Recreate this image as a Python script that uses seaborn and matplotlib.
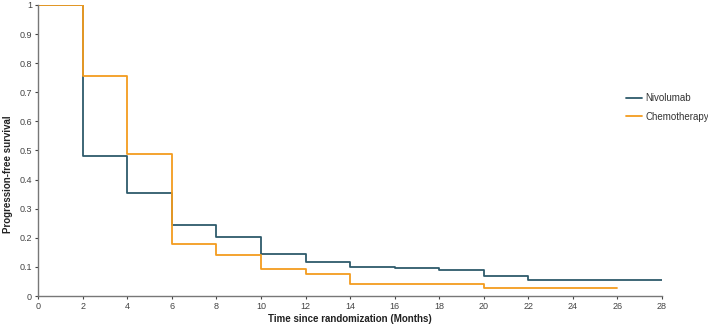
import pandas as pd
import numpy as np
import matplotlib
matplotlib.use("Agg")
import matplotlib.pyplot as plt
import seaborn as sns

# step times (months) and progression-free survival
nivo_months = [0, 2, 4, 6, 8, 10, 12, 14, 16, 18, 20, 22, 28]
nivo_pfs = [1.0, 0.48, 0.353, 0.243, 0.201, 0.146, 0.118, 0.101, 0.096, 0.089, 0.070, 0.056, 0.056]
chemo_months = [0, 2, 4, 6, 8, 10, 12, 14, 20, 26]
chemo_pfs = [1.0, 0.755, 0.487, 0.177, 0.140, 0.092, 0.075, 0.042, 0.028, 0.028]

x_ticks = list(range(0, 29, 2))
y_ticks = [0, 0.1, 0.2, 0.3, 0.4, 0.5, 0.6, 0.7, 0.8, 0.9, 1]
y_labels = ["0", "0.1", "0.2", "0.3", "0.4", "0.5", "0.6", "0.7", "0.8", "0.9", "1"]

df = pd.concat([
    pd.DataFrame({"Month": nivo_months, "PFS": nivo_pfs, "Arm": "Nivolumab"}),
    pd.DataFrame({"Month": chemo_months, "PFS": chemo_pfs, "Arm": "Chemotherapy"}),
], ignore_index=True)

sns.set_style("white")
plt.rcParams["font.family"] = ["Liberation Sans", "DejaVu Sans"]

fig = plt.figure(figsize=(7.08, 3.26), dpi=100)
ax = fig.add_axes([0.054, 0.092, 0.881, 0.893])

palette = {"Nivolumab": "#2e5a6b", "Chemotherapy": "#f39c1f"}
sns.lineplot(data=df, x="Month", y="PFS", hue="Arm", palette=palette,
             drawstyle="steps-post", linewidth=1.3, ax=ax, estimator=None, sort=False)

ax.set_xlim(0, 28)
ax.set_ylim(0, 1)
ax.set_xticks(x_ticks)
ax.set_yticks(y_ticks)
ax.set_yticklabels(y_labels)
ax.tick_params(axis="both", labelsize=6.5, colors="#444444", length=2.5, width=0.8,
               direction="out", pad=2)
for s in ["top", "right"]:
    ax.spines[s].set_visible(False)
for s in ["left", "bottom"]:
    ax.spines[s].set_color("#777777")
    ax.spines[s].set_linewidth(1.0)
ax.tick_params(left=True, bottom=True)

ax.set_xlabel("Time since randomization (Months)", fontsize=7, fontweight="bold",
              color="#222222")
ax.xaxis.set_label_coords(0.5, -0.062)
ax.set_ylabel("Progression-free survival", fontsize=7, fontweight="bold",
              color="#222222")
ax.yaxis.set_label_coords(-0.04, 0.42)

leg = ax.legend(loc="center left", bbox_to_anchor=(0.942, 0.648), frameon=False,
                fontsize=7, handlelength=1.7, handletextpad=0.3, labelspacing=0.9,
                borderpad=0, borderaxespad=0, title=None)
for t in leg.get_texts():
    t.set_color("#333333")

fig.savefig("out.png", dpi=100)
